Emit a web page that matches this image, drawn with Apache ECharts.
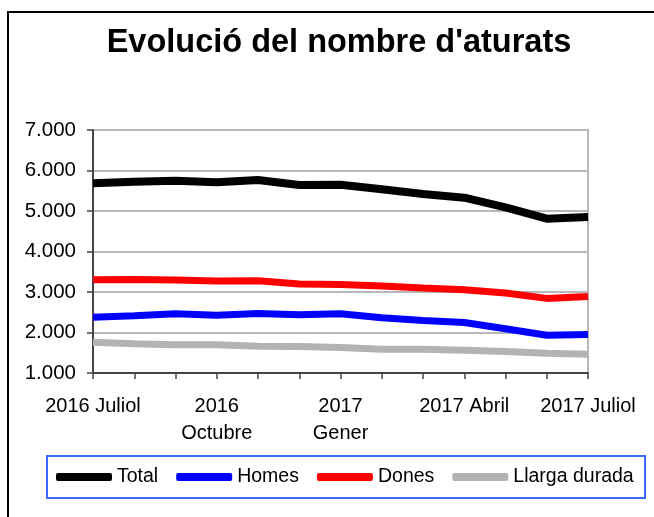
<!DOCTYPE html>
<html>
<head>
<meta charset="utf-8">
<script src="https://cdn.jsdelivr.net/npm/echarts@6/dist/echarts.min.js"></script>
<style>
  html, body { margin: 0; padding: 0; background: #fff; }
  #main { width: 654px; height: 517px; }
</style>
</head>
<body>
<div id="main"></div>
<script>
const months = ['2016 Juliol', '2016 Agost', '2016 Setembre', '2016 Octubre', '2016 Novembre', '2016 Desembre',
  '2017 Gener', '2017 Febrer', '2017 Març', '2017 Abril', '2017 Maig', '2017 Juny', '2017 Juliol'];
const tickLabels = ['2016 Juliol', '', '', '2016\nOctubre', '', '', '2017\nGener', '', '', '2017 Abril', '', '', '2017 Juliol'];

const total = [5684, 5724, 5748, 5709, 5765, 5642, 5650, 5535, 5420, 5328, 5091, 4810, 4852];
const homes = [2378, 2412, 2462, 2427, 2469, 2437, 2462, 2363, 2296, 2247, 2091, 1933, 1951];
const dones = [3304, 3311, 3296, 3272, 3279, 3197, 3188, 3148, 3099, 3057, 2975, 2842, 2891];
const llarga = [1760, 1720, 1696, 1696, 1662, 1654, 1630, 1588, 1588, 1564, 1531, 1489, 1465];

const font = "'Liberation Sans', Arial, sans-serif";
const chart = echarts.init(document.getElementById('main'));

function serie(name, data, color, width) {
  return {
    name: name,
    type: 'line',
    data: data,
    showSymbol: false,
    symbol: 'none',
    color: color,
    lineStyle: { color: color, width: width },
    animation: false
  };
}

var option = {
  backgroundColor: '#ffffff',
  animation: false,
  graphic: [
    {
      type: 'rect',
      shape: { x: 8, y: 12, width: 700, height: 600 },
      style: { fill: 'none', stroke: '#000', lineWidth: 2 },
      silent: true
    },
    {
      type: 'text',
      x: 339,
      y: 43,
      style: {
        text: "Evolució del nombre d'aturats",
        font: 'bold 32.5px ' + font,
        fill: '#000',
        textAlign: 'center',
        textVerticalAlign: 'middle'
      }
    },
    {
      type: 'rect',
      shape: { x: 47, y: 456, width: 598, height: 42 },
      style: { fill: 'none', stroke: '#3d6bff', lineWidth: 2 },
      silent: true
    }
  ],
  grid: {
    left: 93, right: 66, top: 130, bottom: 144,
    show: true,
    backgroundColor: '#fff',
    borderColor: '#b8b8b8',
    borderWidth: 2
  },
  legend: {
    left: 56,
    top: 467,
    padding: 0,
    itemGap: 18,
    itemWidth: 56,
    itemHeight: 8,
    icon: 'roundRect',
    textStyle: { fontFamily: font, fontSize: 19.5, color: '#000' },
    data: ['Total', 'Homes', 'Dones', 'Llarga durada']
  },
  xAxis: {
    type: 'category',
    data: months,
    boundaryGap: false,
    axisLine: { lineStyle: { color: '#444', width: 2 } },
    axisTick: { interval: 0, length: 6, lineStyle: { color: '#444', width: 1.5 } },
    axisLabel: {
      interval: 0,
      margin: 20,
      fontFamily: font,
      fontSize: 20,
      lineHeight: 27,
      color: '#000',
      formatter: function (v, i) { return tickLabels[i]; }
    },
    splitLine: { show: false }
  },
  yAxis: {
    type: 'value',
    min: 1000,
    max: 7000,
    interval: 1000,
    axisLine: { show: true, lineStyle: { color: '#444', width: 2 } },
    axisTick: { show: true, length: 6, lineStyle: { color: '#444', width: 1.5 } },
    axisLabel: {
      margin: 17,
      fontFamily: font,
      fontSize: 20.5,
      color: '#000',
      formatter: function (v) { return (v / 1000).toFixed(3); }
    },
    splitLine: { lineStyle: { color: '#b8b8b8', width: 2 } }
  },
  series: [
    serie('Total', total, '#000000', 8),
    serie('Homes', homes, '#0000ff', 7),
    serie('Dones', dones, '#ff0000', 7),
    serie('Llarga durada', llarga, '#b3b3b3', 7)
  ]
};

chart.setOption(option);
</script>
</body>
</html>
